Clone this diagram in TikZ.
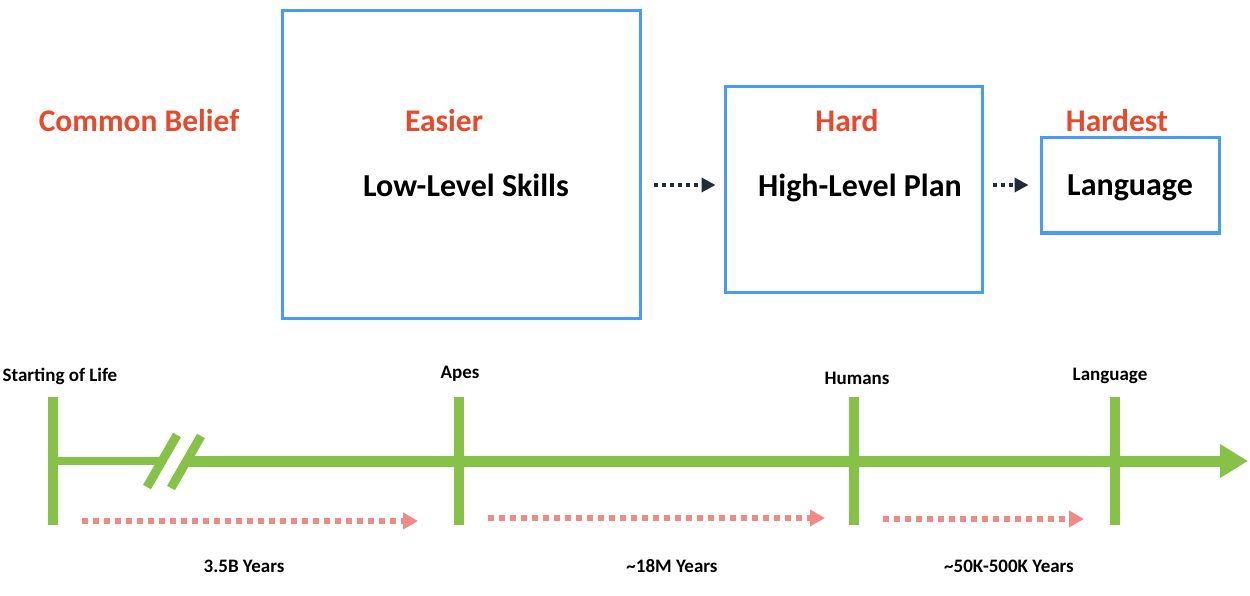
\documentclass[tikz,border=0pt]{standalone}
\usepackage{fontspec}
\setmainfont{Carlito}
\usetikzlibrary{arrows.meta}
\definecolor{boxblue}{HTML}{4A9BF5}
\definecolor{hred}{HTML}{E8492A}
\definecolor{tgreen}{HTML}{86C148}
\definecolor{darkarr}{HTML}{222B3A}
\definecolor{pinkarr}{HTML}{F08A84}
\tikzset{
  bluebox/.style={draw=boxblue, line width=3pt, inner sep=0pt},
  redlbl/.style={text=hred, font=\fontsize{31.5}{33}\selectfont\bfseries, inner sep=0pt},
  mainlbl/.style={text=black, font=\fontsize{32}{34}\selectfont\bfseries, inner sep=0pt},
  smalllbl/.style={text=black, font=\fontsize{19}{21}\selectfont\bfseries, inner sep=0pt},
  darr/.style={darkarr, line width=4pt, dash pattern=on 4pt off 4pt, -{Triangle[length=14pt,width=14pt]}},
  parr/.style={pinkarr, line width=6pt, dash pattern=on 6pt off 5pt, -{Triangle[length=15pt,width=16pt]}},
  tick/.style={tgreen, line width=10pt},
}
\begin{document}
\begin{tikzpicture}[x=1pt,y=-1pt]
\useasboundingbox[fill=white] (0,0) rectangle (1250,596);
% boxes
\node[bluebox, minimum width=358pt, minimum height=307pt] (b1) at (461,164.5) {};
\node[bluebox, minimum width=257pt, minimum height=205pt] (b2) at (853.5,189.5) {};
\node[bluebox, minimum width=178pt, minimum height=95pt] (b3) at (1130,185.5) {};
% labels
\node[redlbl] (cb) at (139,121) {Common Belief};
\node[redlbl] (ea) at (444,121) {Easier};
\node[redlbl] (ha) at (847,121) {Hard};
\node[redlbl] (hs) at (1117,121) {Hardest};
\node[mainlbl] (t1) at (466,185) {Low-Level Skills};
\node[mainlbl] (t2) at (860,188) {High-Level Plan};
\node[mainlbl] (t3) at (1130,188) {Language};
% dark arrows
\draw[darr] ([xshift=12pt]b1.east |- t1.center) -- ([xshift=-8pt]b2.west |- t1.center);
\draw[darr] ([xshift=9pt]b2.east |- t1.center) -- ([xshift=-11pt]b3.west |- t1.center);
% timeline
\coordinate (s0) at (53,461);
\coordinate (br1) at (162,461);
\coordinate (br2) at (186,461);
\coordinate (tend) at (1248,461);
\draw[tgreen, line width=8pt] (s0) -- (br1);
\draw[tgreen, line width=11pt, -{Triangle[length=28pt,width=32pt]}] (br2) -- (tend);
\draw[tgreen, line width=9pt] ([shift={(-15,26)}]br1) -- ([shift={(15,-26)}]br1);
\draw[tgreen, line width=9pt] ([shift={(-15,27)}]br2) -- ([shift={(15,-25)}]br2);
\coordinate (k1) at (53,461);
\coordinate (k2) at (459,461);
\coordinate (k3) at (854,461);
\coordinate (k4) at (1115,461);
\foreach \k in {k1,k2,k3,k4}{
  \draw[tick] ([yshift=-64pt]\k) -- ([yshift=64pt]\k);
}
\node[smalllbl] (l1) at (60,376) {Starting of Life};
\node[smalllbl] (l2) at (460,374) {Apes};
\node[smalllbl] (l3) at (857,378) {Humans};
\node[smalllbl] (l4) at (1110,376) {Language};
% pink arrows
\coordinate (p1s) at (82,521); \coordinate (p1e) at (418,521);
\coordinate (p2s) at (488,518); \coordinate (p2e) at (825,518);
\coordinate (p3s) at (883,519); \coordinate (p3e) at (1084,519);
\draw[parr] (p1s) -- (p1e);
\draw[parr] (p2s) -- (p2e);
\draw[parr] (p3s) -- (p3e);
\node[smalllbl] (y1) at (244,566) {3.5B Years};
\node[smalllbl] (y2) at (672,566) {\textasciitilde18M Years};
\node[smalllbl] (y3) at (1009,566) {\textasciitilde50K-500K Years};
\end{tikzpicture}
\end{document}
